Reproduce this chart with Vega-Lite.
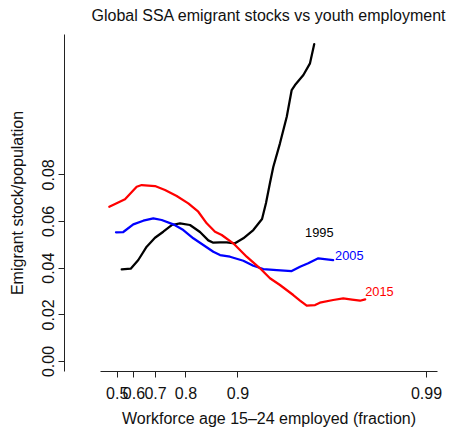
{
  "$schema": "https://vega.github.io/schema/vega-lite/v6.json",
  "width": 337,
  "height": 337,
  "autosize": {"type": "none"},
  "padding": {"left": 100, "top": 34, "right": 13, "bottom": 57},
  "background": "white",
  "title": {
    "text": "Global SSA emigrant stocks vs youth employment",
    "font": "Liberation Sans",
    "fontSize": 16,
    "fontWeight": "normal",
    "color": "#111",
    "anchor": "middle",
    "frame": "group",
    "offset": 10
  },
  "config": {
    "view": {"stroke": null},
    "axis": {
      "grid": false,
      "domainColor": "#222",
      "domainWidth": 1,
      "tickColor": "#222",
      "tickWidth": 1,
      "tickSize": 6,
      "labelFont": "Liberation Sans",
      "labelFontSize": 16,
      "labelColor": "#111",
      "titleFont": "Liberation Sans",
      "titleFontSize": 16,
      "titleFontWeight": "normal",
      "titleColor": "#111",
      "labelOverlap": false,
      "labelFlush": false,
      "labelBound": false
    }
  },
  "datasets": {
    "lines": [
      {"year": "1995", "not_employed": 0.4678, "stock": 0.03929},
      {"year": "1995", "not_employed": 0.4148, "stock": 0.03955},
      {"year": "1995", "not_employed": 0.3749, "stock": 0.04328},
      {"year": "1995", "not_employed": 0.3352, "stock": 0.04898},
      {"year": "1995", "not_employed": 0.3001, "stock": 0.05283},
      {"year": "1995", "not_employed": 0.2687, "stock": 0.05540},
      {"year": "1995", "not_employed": 0.2402, "stock": 0.05828},
      {"year": "1995", "not_employed": 0.2150, "stock": 0.05900},
      {"year": "1995", "not_employed": 0.1882, "stock": 0.05828},
      {"year": "1995", "not_employed": 0.1647, "stock": 0.05528},
      {"year": "1995", "not_employed": 0.1474, "stock": 0.05170},
      {"year": "1995", "not_employed": 0.1379, "stock": 0.05069},
      {"year": "1995", "not_employed": 0.1261, "stock": 0.05086},
      {"year": "1995", "not_employed": 0.1153, "stock": 0.05086},
      {"year": "1995", "not_employed": 0.1033, "stock": 0.05043},
      {"year": "1995", "not_employed": 0.0924, "stock": 0.05258},
      {"year": "1995", "not_employed": 0.0809, "stock": 0.05613},
      {"year": "1995", "not_employed": 0.0720, "stock": 0.06085},
      {"year": "1995", "not_employed": 0.0683, "stock": 0.06770},
      {"year": "1995", "not_employed": 0.0648, "stock": 0.07627},
      {"year": "1995", "not_employed": 0.0620, "stock": 0.08313},
      {"year": "1995", "not_employed": 0.0567, "stock": 0.09328},
      {"year": "1995", "not_employed": 0.0518, "stock": 0.10468},
      {"year": "1995", "not_employed": 0.0485, "stock": 0.11612},
      {"year": "1995", "not_employed": 0.0464, "stock": 0.11826},
      {"year": "1995", "not_employed": 0.0415, "stock": 0.12255},
      {"year": "1995", "not_employed": 0.0380, "stock": 0.12756},
      {"year": "1995", "not_employed": 0.0359, "stock": 0.13583},

      {"year": "2005", "not_employed": 0.5047, "stock": 0.05515},
      {"year": "2005", "not_employed": 0.4579, "stock": 0.05528},
      {"year": "2005", "not_employed": 0.4008, "stock": 0.05857},
      {"year": "2005", "not_employed": 0.3507, "stock": 0.06012},
      {"year": "2005", "not_employed": 0.3069, "stock": 0.06115},
      {"year": "2005", "not_employed": 0.2744, "stock": 0.06042},
      {"year": "2005", "not_employed": 0.2351, "stock": 0.05857},
      {"year": "2005", "not_employed": 0.2057, "stock": 0.05613},
      {"year": "2005", "not_employed": 0.1801, "stock": 0.05258},
      {"year": "2005", "not_employed": 0.1576, "stock": 0.04971},
      {"year": "2005", "not_employed": 0.1379, "stock": 0.04683},
      {"year": "2005", "not_employed": 0.1261, "stock": 0.04542},
      {"year": "2005", "not_employed": 0.1104, "stock": 0.04469},
      {"year": "2005", "not_employed": 0.0924, "stock": 0.04298},
      {"year": "2005", "not_employed": 0.0809, "stock": 0.04084},
      {"year": "2005", "not_employed": 0.0708, "stock": 0.03942},
      {"year": "2005", "not_employed": 0.0592, "stock": 0.03899},
      {"year": "2005", "not_employed": 0.0485, "stock": 0.03856},
      {"year": "2005", "not_employed": 0.0434, "stock": 0.04041},
      {"year": "2005", "not_employed": 0.0389, "stock": 0.04186},
      {"year": "2005", "not_employed": 0.0340, "stock": 0.04401},
      {"year": "2005", "not_employed": 0.0304, "stock": 0.04358},
      {"year": "2005", "not_employed": 0.0279, "stock": 0.04328},

      {"year": "2015", "not_employed": 0.5518, "stock": 0.06612},
      {"year": "2015", "not_employed": 0.4476, "stock": 0.06929},
      {"year": "2015", "not_employed": 0.3830, "stock": 0.07469},
      {"year": "2015", "not_employed": 0.3583, "stock": 0.07541},
      {"year": "2015", "not_employed": 0.3001, "stock": 0.07499},
      {"year": "2015", "not_employed": 0.2626, "stock": 0.07327},
      {"year": "2015", "not_employed": 0.2247, "stock": 0.07070},
      {"year": "2015", "not_employed": 0.1925, "stock": 0.06757},
      {"year": "2015", "not_employed": 0.1685, "stock": 0.06397},
      {"year": "2015", "not_employed": 0.1506, "stock": 0.05900},
      {"year": "2015", "not_employed": 0.1348, "stock": 0.05540},
      {"year": "2015", "not_employed": 0.1233, "stock": 0.05399},
      {"year": "2015", "not_employed": 0.1057, "stock": 0.05043},
      {"year": "2015", "not_employed": 0.0884, "stock": 0.04469},
      {"year": "2015", "not_employed": 0.0740, "stock": 0.03972},
      {"year": "2015", "not_employed": 0.0648, "stock": 0.03544},
      {"year": "2015", "not_employed": 0.0567, "stock": 0.03257},
      {"year": "2015", "not_employed": 0.0475, "stock": 0.02828},
      {"year": "2015", "not_employed": 0.0434, "stock": 0.02592},
      {"year": "2015", "not_employed": 0.0397, "stock": 0.02370},
      {"year": "2015", "not_employed": 0.0355, "stock": 0.02400},
      {"year": "2015", "not_employed": 0.0333, "stock": 0.02498},
      {"year": "2015", "not_employed": 0.0279, "stock": 0.02614},
      {"year": "2015", "not_employed": 0.0244, "stock": 0.02687},
      {"year": "2015", "not_employed": 0.0217, "stock": 0.02635},
      {"year": "2015", "not_employed": 0.0195, "stock": 0.02584},
      {"year": "2015", "not_employed": 0.0182, "stock": 0.02644}
    ],
    "labels": [
      {"year": "1995", "not_employed": 0.0406, "stock": 0.05472},
      {"year": "2005", "not_employed": 0.0272, "stock": 0.04499},
      {"year": "2015", "not_employed": 0.0182, "stock": 0.02969}
    ]
  },
  "encoding": {
    "x": {
      "field": "not_employed",
      "type": "quantitative",
      "scale": {"type": "log", "domain": [0.006988, 0.6247], "reverse": true, "nice": false},
      "axis": {
        "title": "Workforce age 15–24 employed (fraction)",
        "values": [0.5, 0.4, 0.3, 0.2, 0.1, 0.00809],
        "labelExpr": "format(1 - datum.value, '.2~r')",
        "labelBaseline": "top",
        "labelPadding": 8,
        "titleBaseline": "alphabetic",
        "titleY": 52
      }
    },
    "y": {
      "field": "stock",
      "type": "quantitative",
      "scale": {"domain": [-0.00428, 0.14013], "nice": false, "zero": false},
      "axis": {
        "title": "Emigrant stock/population",
        "values": [0, 0.02, 0.04, 0.06, 0.08],
        "format": ".2f",
        "offset": 36,
        "labelAngle": 270,
        "labelAlign": "center",
        "labelBaseline": "alphabetic",
        "labelPadding": 5,
        "titleAngle": 270,
        "titleBaseline": "alphabetic",
        "titleX": -42
      }
    },
    "color": {
      "field": "year",
      "type": "nominal",
      "scale": {"domain": ["1995", "2005", "2015"], "range": ["#000000", "#0000ff", "#ff0000"]},
      "legend": null
    }
  },
  "layer": [
    {
      "data": {"name": "lines"},
      "mark": {"type": "line", "strokeWidth": 2.25, "strokeJoin": "round", "strokeCap": "round"}
    },
    {
      "data": {"name": "labels"},
      "mark": {"type": "text", "align": "left", "baseline": "middle", "font": "Liberation Sans", "fontSize": 12.8},
      "encoding": {"text": {"field": "year"}}
    }
  ]
}
